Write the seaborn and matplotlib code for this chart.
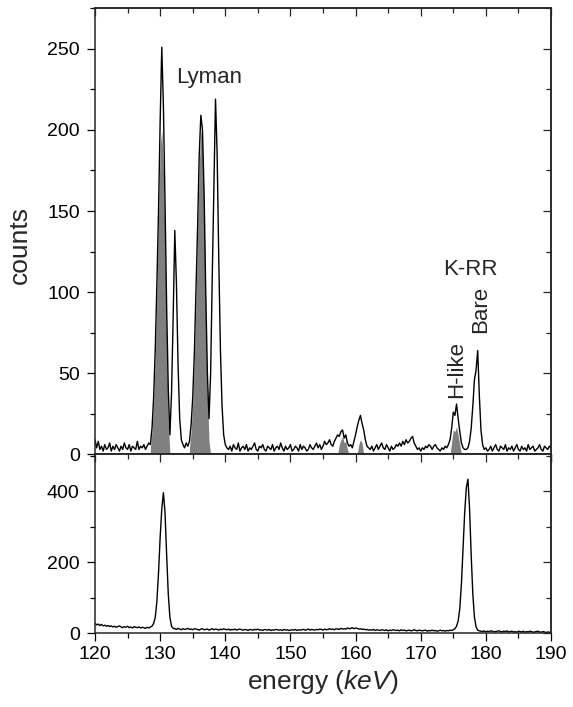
import numpy as np
import pandas as pd
import matplotlib
matplotlib.use('Agg')
import matplotlib.pyplot as plt
import seaborn as sns
from matplotlib.ticker import MultipleLocator

sns.set_style('ticks')
plt.rcParams['font.family'] = ['Liberation Sans', 'DejaVu Sans']
plt.rcParams['mathtext.fontset'] = 'custom'
plt.rcParams['mathtext.rm'] = 'Liberation Sans'
plt.rcParams['mathtext.it'] = 'Liberation Sans:italic'

# channel calibration (keV)
channel_start = 120.0
channel_width = 0.25

# --- upper spectrum (black line) ---
top_bg_1 = [9, 4, 8, 3, 5, 2, 6, 3, 4, 7, 2, 5, 3, 6, 4, 2, 5, 3, 7, 4, 3, 6, 2, 5, 4,
            3, 8, 3, 5, 4, 6, 3, 5, 7, 6]
top_lyman = [16, 35, 65, 105, 150, 205, 251, 215, 155, 90, 40, 12, 38, 85, 138, 105, 55, 22,
             9, 6, 4, 7, 5, 8, 18, 35, 62, 100, 140, 185, 209, 200, 160, 100, 50, 22, 50, 110,
             165, 219, 185, 120, 65, 30, 12, 6, 4]
top_bg_2 = [3, 5, 2, 6, 4, 3, 7, 2, 4, 5, 3, 6, 2, 4, 3, 5, 7, 3, 2, 5, 4, 6, 3, 2, 5, 4,
            3, 6, 2, 4, 5, 3, 7, 4, 2, 5, 3, 4, 6, 2, 3, 5, 4, 2, 6, 3, 5, 4, 2, 3, 6, 4, 3,
            5, 7, 4, 6, 3, 5, 8, 6]
top_sat = [7, 9, 6, 5, 8, 10, 12, 11, 14, 15, 10, 12, 7, 5, 6, 4, 8, 12, 17, 21, 24, 19, 15,
           9, 5, 4, 3, 5, 2, 4, 6, 3, 5, 7, 4, 3, 6, 4, 2, 5, 3, 4, 6, 5, 7, 5, 8, 6, 9, 7,
           8, 10, 11, 7, 5, 3, 4, 2, 4, 3, 5, 4, 6, 5, 3, 5, 6, 4, 3, 2, 4, 3, 5]
top_krr = [4, 6, 9, 16, 26, 24, 31, 22, 14, 7, 4, 3, 3, 4, 8, 16, 30, 46, 52, 64, 36, 15, 6,
           3, 4, 2]
top_bg_3 = [3, 5, 2, 4, 6, 3, 2, 5, 4, 3, 6, 2, 4, 3, 5, 2, 4, 6, 3, 2, 5, 3, 4, 2, 6, 3,
            4, 5, 2, 3, 4, 6, 3, 2, 5, 4, 3, 5, 4]

# --- grey filled spectrum in the upper panel (start energy, counts) ---
grey_a = [4, 14, 32, 60, 100, 145, 190, 200, 175, 130, 70, 20, 0]
grey_c = [4, 14, 32, 58, 95, 135, 178, 200, 192, 150, 90, 38, 8, 0]
grey_sat1 = [0, 6, 9, 11, 7, 8, 3, 0]
grey_sat2 = [0, 6, 9, 7, 0]
grey_h = [0, 8, 15, 14, 17, 12, 6, 0]
grey_starts = [128.5, 134.5, 157.25, 160.25, 174.5]

# --- lower spectrum ---
bot_bg_1 = [28, 24, 26, 22, 25, 21, 23, 20, 22, 19, 21, 18, 20, 17, 19, 21, 18, 16, 19, 17,
            20, 16, 18, 15, 19, 17, 16, 18, 15, 17, 16, 14, 17, 15, 18]
bot_peak_1 = [20, 28, 45, 90, 170, 270, 350, 396, 340, 220, 110, 45, 20, 14]
bot_bg_2 = [13, 11, 14, 12, 10, 13, 11, 12, 14, 11, 12, 10, 13, 12, 11, 9,
            12, 13, 10, 11, 12, 9, 11, 13, 10, 12, 11, 9, 12, 10, 13, 11,
            10, 12, 9, 11, 10, 12, 9, 11, 12, 10, 9, 11, 10, 8, 11, 10,
            9, 11, 10, 12, 9, 10, 8, 11, 10, 9, 11, 8, 10, 9, 11, 10,
            9, 10, 8, 11, 9, 10, 8, 9, 10, 9, 11, 8, 10, 9, 10, 11,
            9, 10, 12, 9, 11, 10, 9, 11, 10, 12, 11, 9, 12, 10, 11, 13,
            11, 12, 10, 13, 12, 11, 14, 12, 13, 12, 15, 13, 14, 16, 13, 15,
            14, 12, 13, 11, 12, 10, 11, 9, 10, 9, 11, 8, 10, 9, 8, 10,
            9, 8, 10, 7, 9, 8, 10, 9, 8, 9, 7, 10, 8, 9, 7, 8,
            9, 7, 8, 10, 8, 7, 9, 8, 7, 8, 9, 6, 8, 7, 9, 7,
            8, 6, 7, 9, 7, 8, 6, 8, 7, 9, 8, 10]
bot_peak_2 = [13, 20, 35, 70, 140, 240, 340, 410, 434, 350, 220, 110, 45, 18, 9, 7]
bot_bg_3 = [6, 5, 7, 4, 6, 5, 7, 6, 4, 5, 6, 7, 5, 4, 6, 5, 7, 4, 5, 6, 4, 5, 3, 6, 5, 4,
            6, 3, 5, 4, 6, 5, 3, 4, 5, 6, 4, 3, 5, 4, 2, 4, 3, 2]

top_counts = top_bg_1 + top_lyman + top_bg_2 + top_sat + top_krr + top_bg_3
bot_counts = bot_bg_1 + bot_peak_1 + bot_bg_2 + bot_peak_2 + bot_bg_3
energy = channel_start + channel_width * np.arange(len(top_counts))

top_df = pd.DataFrame({'energy': energy, 'counts': top_counts})
bot_df = pd.DataFrame({'energy': energy, 'counts': bot_counts})

fig = plt.figure(figsize=(5.73, 7.07), dpi=100)
ax_top = fig.add_axes([0.1658, 0.3574, 0.7958, 0.6309])
ax_bot = fig.add_axes([0.1658, 0.1042, 0.7958, 0.2532], sharex=ax_top)

for start, seg in zip(grey_starts, [grey_a, grey_c, grey_sat1, grey_sat2, grey_h]):
    e = start + channel_width * np.arange(len(seg))
    ax_top.fill_between(e, 0, seg, color='#808080', lw=0, zorder=1)

sns.lineplot(data=top_df, x='energy', y='counts', ax=ax_top, color='black',
             linewidth=1.0, estimator=None, zorder=2)
sns.lineplot(data=bot_df, x='energy', y='counts', ax=ax_bot, color='black',
             linewidth=1.0, estimator=None, zorder=2)

ax_top.set_xlim(120, 190)
ax_top.set_ylim(0, 275)
ax_bot.set_ylim(0, 504)

ax_top.yaxis.set_major_locator(MultipleLocator(50))
ax_top.yaxis.set_minor_locator(MultipleLocator(25))
ax_bot.yaxis.set_major_locator(MultipleLocator(200))
ax_bot.yaxis.set_minor_locator(MultipleLocator(100))
ax_bot.xaxis.set_major_locator(MultipleLocator(10))
ax_bot.xaxis.set_minor_locator(MultipleLocator(5))

for ax in (ax_top, ax_bot):
    for s in ax.spines.values():
        s.set_linewidth(1.1)
    ax.tick_params(which='both', direction='out', width=0.9, labelsize=14, colors='black')
    ax.tick_params(which='major', length=6)
    ax.tick_params(which='minor', length=3.5)
    ax.tick_params(axis='y', pad=5)
    ax.tick_params(axis='x', pad=3)
    # mirrored ticks pointing inwards
    sx = ax.secondary_xaxis('top')
    sx.xaxis.set_major_locator(MultipleLocator(10))
    sx.xaxis.set_minor_locator(MultipleLocator(5))
    sy = ax.secondary_yaxis('right')
    sy.yaxis.set_major_locator(ax.yaxis.get_major_locator())
    sy.yaxis.set_minor_locator(ax.yaxis.get_minor_locator())
    for sec in (sx, sy):
        sec.tick_params(which='both', direction='in', width=0.9, labelleft=False,
                        labelright=False, labeltop=False, labelbottom=False)
        sec.tick_params(which='major', length=6)
        sec.tick_params(which='minor', length=3.5)
        for s in sec.spines.values():
            s.set_linewidth(1.1)

ax_top.tick_params(axis='x', labelbottom=False)
ax_top.set_xlabel('')
ax_top.set_ylabel('counts', fontsize=19)
ax_top.yaxis.set_label_coords(-0.138, 0.469)
ax_bot.set_ylabel('')
ax_bot.set_xlabel(r'energy ($\mathit{keV}$)', fontsize=19, labelpad=4)

ax_top.text(132.4, 228.7, 'Lyman', fontsize=16, ha='left', va='baseline')
ax_top.text(173.4, 110.6, 'K-RR', fontsize=16, ha='left', va='baseline')
ax_top.text(175.55, 35, 'H-like', fontsize=16, rotation=90, ha='center', va='bottom')
ax_top.text(179.25, 74.7, 'Bare', fontsize=16, rotation=90, ha='center', va='bottom')

fig.savefig('out.png', dpi=100)
